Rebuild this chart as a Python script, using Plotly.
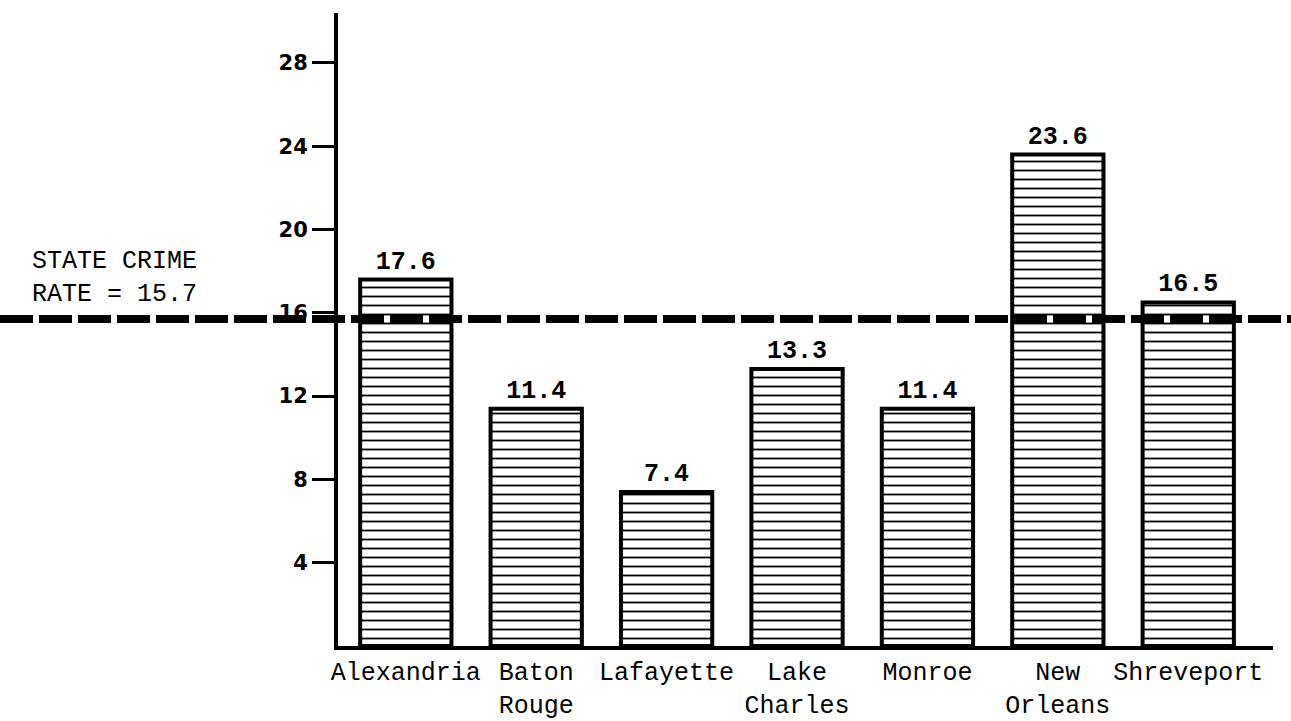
import plotly.graph_objects as go

cities = ["Alexandria", "Baton<br>Rouge", "Lafayette", "Lake<br>Charles",
          "Monroe", "New<br>Orleans", "Shreveport"]
crime_rates = [17.6, 11.4, 7.4, 13.3, 11.4, 23.6, 16.5]
state_rate = 15.7
y_ticks = [4, 8, 12, 16, 20, 24, 28]

MONO = "Liberation Mono"
W, H = 1291, 721
ML, MR, MT, MB = 338, 18, 13, 75

fig = go.Figure()
fig.add_trace(go.Bar(
    x=list(range(len(cities))),
    y=crime_rates,
    width=0.70,
    marker=dict(
        color="white",
        line=dict(color="black", width=4),
        pattern=dict(shape="-", fgcolor="black", bgcolor="white",
                     size=9, solidity=0.2, fillmode="replace"),
    ),
    text=[f"<b>{v:.1f}</b>" for v in crime_rates],
    textposition="outside",
    textfont=dict(family=MONO, size=25, color="black"),
    cliponaxis=False,
    hoverinfo="skip",
))

# state crime rate dashed line, extends beyond plot area to the left
fig.add_shape(type="line", xref="paper", yref="y",
              x0=-ML / (W - ML - MR), x1=1 + MR / (W - ML - MR),
              y0=state_rate, y1=state_rate,
              line=dict(color="black", width=8, dash="33px,6px"),
              layer="above")

fig.add_annotation(xref="paper", yref="y",
                   x=(30 - ML) / (W - ML - MR), y=state_rate,
                   xanchor="left", yanchor="bottom", yshift=8,
                   text=f"STATE CRIME<br>RATE = {state_rate}",
                   showarrow=False, align="left",
                   font=dict(family=MONO, size=25, color="black"))

fig.update_layout(
    width=W, height=H,
    margin=dict(l=ML, r=MR, t=MT, b=MB, autoexpand=False),
    plot_bgcolor="white", paper_bgcolor="white",
    showlegend=False,
    bargap=0.3,
)
fig.update_xaxes(
    range=[-0.52, 6.65], automargin=False,
    tickmode="array", tickvals=list(range(len(cities))), ticktext=cities,
    showline=True, linecolor="black", linewidth=4,
    ticks="", showgrid=False, zeroline=False,
    tickfont=dict(family=MONO, size=25, color="black"),
)
fig.update_yaxes(
    range=[0, 30.4], automargin=False,
    tickmode="array", tickvals=y_ticks,
    ticktext=[f"<b>{t}</b>" for t in y_ticks],
    showline=True, linecolor="black", linewidth=4,
    ticks="outside", ticklen=22, tickwidth=3, tickcolor="black",
    showgrid=False, zeroline=False,
    tickfont=dict(family="DejaVu Sans", size=21, color="black"),
)

fig.write_html("out.html",
               config={"displayModeBar": False, "staticPlot": True},
               post_script="document.body.style.margin='0';"
                           "document.body.style.overflow='hidden';")
